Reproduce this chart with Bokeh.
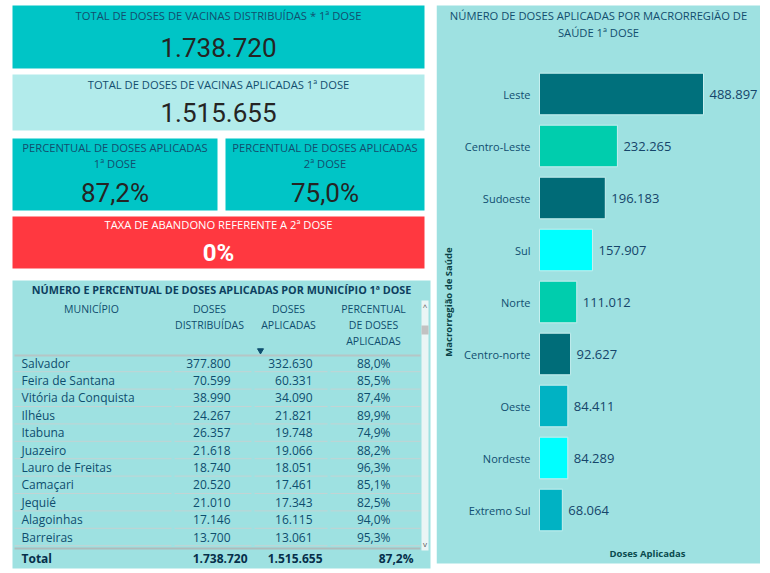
import math
from bokeh.plotting import figure
from bokeh.models import Range1d, ColumnDataSource
from bokeh.layouts import row
from bokeh.embed import file_html
from bokeh.resources import INLINE
from bokeh.core.properties import value

# ---------------- data ----------------
total_distribuidas = 1738720
total_aplicadas = 1515655
percentual_1a_dose = 87.2
percentual_2a_dose = 75.0
taxa_abandono = 0

municipios = ["Salvador", "Feira de Santana", "Vitória da Conquista", "Ilhéus", "Itabuna",
              "Juazeiro", "Lauro de Freitas", "Camaçari", "Jequié", "Alagoinhas", "Barreiras"]
doses_distribuidas = [377800, 70599, 38990, 24267, 26357, 21618, 18740, 20520, 21010, 17146, 13700]
doses_aplicadas = [332630, 60331, 34090, 21821, 19748, 19066, 18051, 17461, 17343, 16115, 13061]
percentual_aplicadas = [88.0, 85.5, 87.4, 89.9, 74.9, 88.2, 96.3, 85.1, 82.5, 94.0, 95.3]
total_percentual = 87.2

macrorregioes = ["Leste", "Centro-Leste", "Sudoeste", "Sul", "Norte", "Centro-norte",
                 "Oeste", "Nordeste", "Extremo Sul"]
doses_macro = [488897, 232265, 196183, 157907, 111012, 92627, 84411, 84289, 68064]
cores_macro = ["#00707C", "#00CDAD", "#006B77", "#00FFFF", "#00CDAD", "#006D79",
               "#00B2C3", "#00FFFF", "#00B2C3"]


def num(n):
    return f"{n:,}".replace(",", ".")


def pct(v, d=1):
    return f"{v:.{d}f}".replace(".", ",") + "%"


TEAL = "#00C5C6"
LIGHT = "#B2EBEB"
RED = "#FF3840"
PANEL = "#9EE1E1"
TITLE_C = "#124E6E"
BIG_C = "#252423"
TAB_C = "#0E4D6E"
FONT = "Open Sans"
BIGFONT = "Roboto"
CARD_FS = "11.2px"
H = 570

# ---------------- left panel (cards + table) ----------------
L = figure(width=436, height=H, x_range=Range1d(0, 436), y_range=Range1d(H, 0),
           output_backend="svg", toolbar_location=None, min_border=0)
L.axis.visible = False
L.grid.visible = False
L.outline_line_color = None
L.background_fill_color = "white"
L.border_fill_color = "white"

L.quad(left=[12, 12, 12, 225, 12, 12], right=[424, 424, 217, 424, 424, 430],
       top=[5, 74, 138, 138, 216, 280], bottom=[68, 130, 210, 210, 268, 568],
       fill_color=[TEAL, LIGHT, TEAL, TEAL, RED, PANEL], line_color=None)


def txt(x, y, s, size, color, font=FONT, style="normal", align="center"):
    L.text(x=[x], y=[y], text=[s], text_font=value(font), text_font_size=size,
           text_color=color, text_align=align, text_baseline="middle",
           text_font_style=style)


txt(218, 15, "TOTAL DE DOSES DE VACINAS DISTRIBUÍDAS * 1ª DOSE", CARD_FS, TITLE_C)
txt(218, 47, num(total_distribuidas), "26px", BIG_C, font=BIGFONT)
txt(218, 84, "TOTAL DE DOSES DE VACINAS APLICADAS 1ª DOSE", CARD_FS, TITLE_C)
txt(218, 112, num(total_aplicadas), "26px", BIG_C, font=BIGFONT)
txt(114.5, 147, "PERCENTUAL DE DOSES APLICADAS", CARD_FS, TITLE_C)
txt(114.5, 163, "1ª DOSE", CARD_FS, TITLE_C)
txt(114.5, 192, pct(percentual_1a_dose), "26px", BIG_C, font=BIGFONT)
txt(324.5, 147, "PERCENTUAL DE DOSES APLICADAS", CARD_FS, TITLE_C)
txt(324.5, 163, "2ª DOSE", CARD_FS, TITLE_C)
txt(324.5, 192, pct(percentual_2a_dose), "26px", BIG_C, font=BIGFONT)
txt(218, 224, "TAXA DE ABANDONO REFERENTE A 2ª DOSE", CARD_FS, "white")
txt(218, 252, pct(taxa_abandono, 0), "24px", "white", font=BIGFONT, style="bold")

# table
txt(221, 289, "NÚMERO E PERCENTUAL DE DOSES APLICADAS POR MUNICÍPIO 1ª DOSE", "10.8px",
    "#0D3F5F", style="bold")
txt(91, 308, "MUNICÍPIO", "10.5px", TAB_C)
txt(209, 308, "DOSES", "10.5px", TAB_C)
txt(209, 324, "DISTRIBUÍDAS", "10.5px", TAB_C)
txt(288, 308, "DOSES", "10.5px", TAB_C)
txt(288, 324, "APLICADAS", "10.5px", TAB_C)
txt(373, 308, "PERCENTUAL", "10.5px", TAB_C)
txt(373, 324, "DE DOSES", "10.5px", TAB_C)
txt(373, 340, "APLICADAS", "10.5px", TAB_C)
L.scatter(x=[260], y=[350], marker="inverted_triangle", size=6, color=TAB_C)

# header line and row lines
L.segment(x0=[14], x1=[420], y0=[355], y1=[355], line_color="#B5C6C6", line_width=2)
row_y = [362.5 + i * 17.4 for i in range(len(municipios))]
col_spans = [(14, 171), (174, 251), (254, 327), (330, 420)]
sx0, sx1, sy = [], [], []
for y in row_y:
    for a, b in col_spans:
        sx0.append(a)
        sx1.append(b)
        sy.append(y + 8.7)
L.segment(x0=sx0, x1=sx1, y0=sy, y1=sy, line_color="#C3D3D3", line_width=1)
L.segment(x0=[14], x1=[420], y0=[548], y1=[548], line_color="#AEBBBB", line_width=2)

rows = ColumnDataSource(dict(
    y=row_y,
    mun=municipios,
    dist=[num(v) for v in doses_distribuidas],
    apl=[num(v) for v in doses_aplicadas],
    pc=[pct(v) for v in percentual_aplicadas],
))
for col, xx, al in [("mun", 21, "left"), ("dist", 230, "right"), ("apl", 312, "right"),
                    ("pc", 390, "right")]:
    L.text(x=xx, y="y", text=col, source=rows, text_font=value(FONT), text_font_size="12px",
           text_color=TAB_C, text_align=al, text_baseline="middle")

txt(21, 558, "Total", "12px", "#062F4A", style="bold", align="left")
txt(247, 558, num(total_distribuidas), "12px", "#062F4A", style="bold", align="right")
txt(322, 558, num(total_aplicadas), "12px", "#062F4A", style="bold", align="right")
txt(413, 558, pct(total_percentual), "12px", "#062F4A", style="bold", align="right")

# scrollbar
L.quad(left=[421], right=[428], top=[300], bottom=[550], fill_color="#EAF5F5", line_color=None)
L.quad(left=[421], right=[428], top=[325], bottom=[334], fill_color="#C2C2C2", line_color=None)
txt(424.5, 306, "^", "8px", "#555555")
txt(424.5, 543, "v", "8px", "#555555")

# ---------------- right panel (bar chart) ----------------
# layout constants (pixels within the right figure)
BW = 324            # figure width
X0_PX = 103         # where zero doses sits
PX_PER_DOSE = 164 / 488897.0
ROW_PX = 52         # pixels per category
ROW0_PX = 93.5      # centre of first category


def dx(px):
    return (px - X0_PX) / PX_PER_DOSE


def dy(px):
    return (px - ROW0_PX) / ROW_PX


idx = list(range(len(macrorregioes)))
src = ColumnDataSource(dict(i=idx, regiao=macrorregioes, doses=doses_macro, cor=cores_macro,
                            zero=[0] * len(idx), rotulo=[num(v) for v in doses_macro]))

B = figure(width=BW, height=H, x_range=Range1d(dx(0), dx(BW)), y_range=Range1d(dy(H), dy(0)),
           output_backend="svg", toolbar_location=None, min_border=0)
B.axis.visible = False
B.grid.visible = False
B.outline_line_color = None
B.background_fill_color = "white"
B.border_fill_color = "white"

# panel background
B.quad(left=[dx(0)], right=[dx(BW)], top=[dy(5)], bottom=[dy(563)], fill_color=PANEL,
       line_color=None)

B.hbar(y="i", right="doses", left=0, height=0.8, fill_color="cor",
       line_color="#C6EFEF", line_width=1, source=src)
B.text(x="doses", y="i", text="rotulo", x_offset=6, text_baseline="middle",
       text_align="left", text_font=value(FONT), text_font_size="13px",
       text_color="#15456A", source=src)
B.text(x="zero", y="i", text="regiao", x_offset=-9, text_baseline="middle",
       text_align="right", text_font=value(FONT), text_font_size="11px",
       text_color="#104E70", source=src)

# titles
B.text(x=[dx(162), dx(162)], y=[dy(15), dy(32)],
       text=["NÚMERO DE DOSES APLICADAS POR MACRORREGIÃO DE", "SAÚDE 1ª DOSE"],
       text_font=value(FONT), text_font_size=CARD_FS, text_color=TITLE_C,
       text_align="center", text_baseline="middle")
B.text(x=[dx(11.5)], y=[dy(301.5)], text=["Macrorregião de Saúde"], angle=math.pi / 2,
       text_font=value(FONT), text_font_size="9.5px", text_font_style="bold",
       text_color="#083F45", text_align="center", text_baseline="middle")
B.text(x=[dx(211)], y=[dy(553)], text=["Doses Aplicadas"],
       text_font=value(FONT), text_font_size="9.5px", text_font_style="bold",
       text_color="#0A4B4F", text_align="center", text_baseline="middle")

layout = row(L, B)

with open("out.html", "w") as f:
    f.write(file_html(layout, INLINE))
